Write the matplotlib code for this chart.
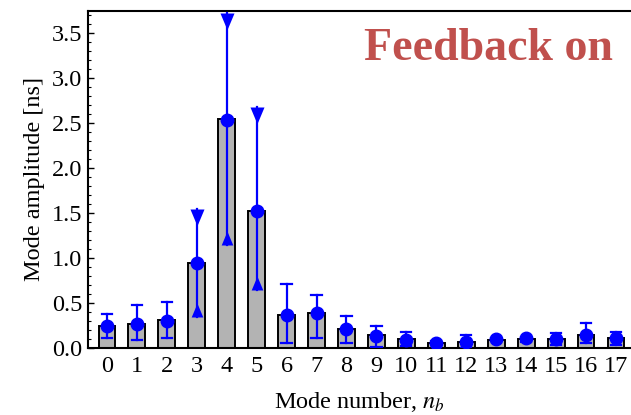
import matplotlib
matplotlib.use("Agg")
import matplotlib.pyplot as plt
from matplotlib.ticker import MultipleLocator, FormatStrFormatter
from matplotlib.path import Path

plt.rcParams['font.family'] = ['Liberation Serif', 'DejaVu Serif']
plt.rcParams['mathtext.fontset'] = 'stix'

# mode amplitudes [ns] with feedback on
modes = list(range(18))
amp = [0.24, 0.27, 0.31, 0.94, 2.55, 1.52, 0.37, 0.39, 0.21, 0.14,
       0.10, 0.06, 0.07, 0.09, 0.10, 0.10, 0.15, 0.11]
pts = [0.24, 0.27, 0.30, 0.94, 2.54, 1.52, 0.37, 0.39, 0.21, 0.13,
       0.09, 0.06, 0.065, 0.097, 0.107, 0.097, 0.145, 0.108]
err_hi = [0.38, 0.48, 0.51, 1.55, 3.72, 2.68, 0.71, 0.59, 0.36, 0.24,
          0.175, 0.08, 0.145, 0.11, 0.125, 0.17, 0.28, 0.175]
err_lo = [0.115, 0.09, 0.11, 0.34, 1.14, 0.64, 0.06, 0.11, 0.06, 0.015,
          0.02, 0.04, 0.0, 0.08, 0.07, 0.03, 0.06, 0.03]
arrow_modes = [3, 4, 5]

# arrow heads: flat base sits on the end of the error bar, tip points inwards
head_down = Path([(-0.42, 0), (0.42, 0), (0, -1), (-0.42, 0)])
head_up = Path([(-0.42, 0), (0.42, 0), (0, 1), (-0.42, 0)])

fig = plt.figure(figsize=(6.31, 4.15), dpi=100)
ax = fig.add_axes([0.1395, 0.1614, 0.8605, 0.8128])

ax.bar(modes, amp, width=0.56, color='#b3b3b3', edgecolor='black', linewidth=1.4, zorder=2)

blue = '#0000ff'
for m, p, hi, lo in zip(modes, pts, err_hi, err_lo):
    ax.plot([m, m], [lo, hi], color=blue, lw=1.6, zorder=3)
    if m in arrow_modes:
        ax.plot(m, hi, marker=head_down, color=blue, ms=24, zorder=3, clip_on=False,
                markeredgewidth=0)
        ax.plot(m, lo, marker=head_up, color=blue, ms=20, zorder=3, markeredgewidth=0)
    else:
        for e in (hi, lo):
            ax.plot([m - 0.17, m + 0.17], [e, e], color=blue, lw=1.6, zorder=3)
ax.plot(modes, pts, 'o', color=blue, ms=9, zorder=4)

ax.set_xlim(-0.63, 17.5)
ax.set_ylim(0, 3.75)
ax.set_xticks(modes)
ax.yaxis.set_major_locator(MultipleLocator(0.5))
ax.yaxis.set_minor_locator(MultipleLocator(0.1))
ax.yaxis.set_major_formatter(FormatStrFormatter('%.1f'))
ax.tick_params(direction='in', labelsize=17.5, length=4, width=1)
ax.tick_params(which='minor', direction='in', length=2.5, width=0.8)
ax.tick_params(axis='x', pad=6)
ax.tick_params(axis='y', pad=4)
ax.spines['right'].set_visible(False)
for s in ('left', 'bottom', 'top'):
    ax.spines[s].set_linewidth(1.5)

ax.set_xlabel('Mode number, $n_b$', fontsize=17.5, labelpad=9)
ax.set_ylabel('Mode amplitude [ns]', fontsize=17.5, labelpad=5)

ax.text(0.967, 0.885, 'Feedback on', transform=ax.transAxes, ha='right', va='center',
        fontsize=33, fontweight='bold', color='#c0504d')

fig.savefig('out.png', dpi=100)
